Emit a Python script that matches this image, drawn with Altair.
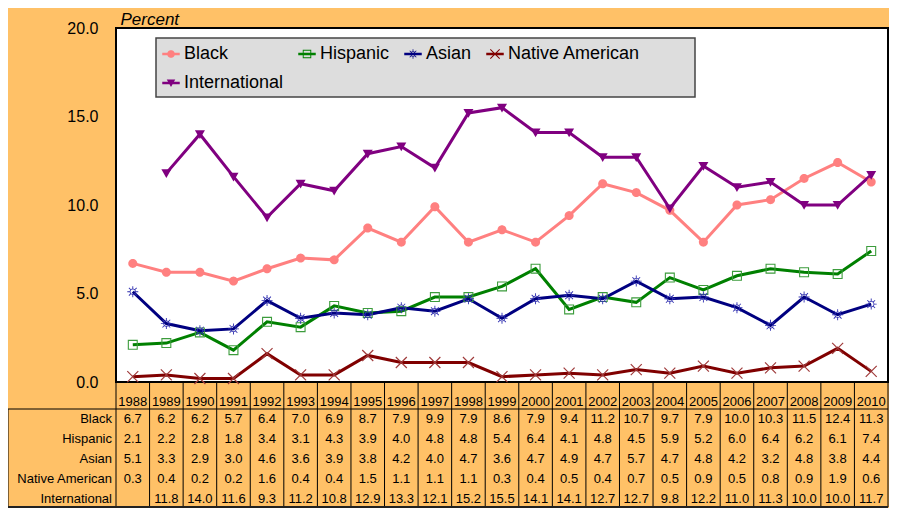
import math
import altair as alt
import pandas as pd

# ---------------- data ----------------
years = [str(y) for y in range(1988, 2011)]
black = [6.7, 6.2, 6.2, 5.7, 6.4, 7.0, 6.9, 8.7, 7.9, 9.9, 7.9, 8.6, 7.9, 9.4, 11.2, 10.7, 9.7, 7.9, 10.0, 10.3, 11.5, 12.4, 11.3]
hispanic = [2.1, 2.2, 2.8, 1.8, 3.4, 3.1, 4.3, 3.9, 4.0, 4.8, 4.8, 5.4, 6.4, 4.1, 4.8, 4.5, 5.9, 5.2, 6.0, 6.4, 6.2, 6.1, 7.4]
asian = [5.1, 3.3, 2.9, 3.0, 4.6, 3.6, 3.9, 3.8, 4.2, 4.0, 4.7, 3.6, 4.7, 4.9, 4.7, 5.7, 4.7, 4.8, 4.2, 3.2, 4.8, 3.8, 4.4]
native_american = [0.3, 0.4, 0.2, 0.2, 1.6, 0.4, 0.4, 1.5, 1.1, 1.1, 1.1, 0.3, 0.4, 0.5, 0.4, 0.7, 0.5, 0.9, 0.5, 0.8, 0.9, 1.9, 0.6]
international = [None, 11.8, 14.0, 11.6, 9.3, 11.2, 10.8, 12.9, 13.3, 12.1, 15.2, 15.5, 14.1, 14.1, 12.7, 12.7, 9.8, 12.2, 11.0, 11.3, 10.0, 10.0, 11.7]
series = ["Black", "Hispanic", "Asian", "Native American", "International"]
y_ticks = [0, 5, 10, 15, 20]

# ---------------- styles ----------------
line_colors = ["#FF8080", "#008000", "#000080", "#800000", "#800080"]
marker_colors = ["#FF8080", "#3C9C3C", "#3030B0", "#A03C3C", "#800080"]
BG = "#FFC167"
FONT = "Liberation Sans"

values = dict(zip(series, [black, hispanic, asian, native_american, international]))
records = []
for s in series:
    for yr, v in zip(years, values[s]):
        records.append({"year": yr, "series": s, "value": v})
df = pd.DataFrame(records)


# ---------------- marker paths (unit box -1..1, filled) ----------------
def shoelace(p):
    n = len(p)
    return 0.5 * sum(p[i][0] * p[(i + 1) % n][1] - p[(i + 1) % n][0] * p[i][1] for i in range(n))


def poly(p, cw=True):
    if (shoelace(p) > 0) != cw:
        p = p[::-1]
    return "M" + "L".join(f"{x:.3f},{y:.3f}" for x, y in p) + "Z"


def circle(r, n=32):
    return [(r * math.cos(2 * math.pi * k / n), r * math.sin(2 * math.pi * k / n)) for k in range(n)]


def square(h):
    return [(-h, -h), (h, -h), (h, h), (-h, h)]


def bar(x1, y1, x2, y2, t):
    dx, dy = x2 - x1, y2 - y1
    L = math.hypot(dx, dy)
    nx, ny = -dy / L * t, dx / L * t
    return [(x1 + nx, y1 + ny), (x2 + nx, y2 + ny), (x2 - nx, y2 - ny), (x1 - nx, y1 - ny)]


def sc(p, k):
    return [(x * k, y * k) for x, y in p]


rays = []
for k in range(8):
    a = k * math.pi / 4
    rays.append((bar(0.55 * math.cos(a), 0.55 * math.sin(a), 1.1 * math.cos(a), 1.1 * math.sin(a), 0.09), True))

marker_parts = {
    "Black": [(circle(0.9), True)],
    "Hispanic": [(square(1.0), True), (square(0.78), False)],
    "Asian": [(circle(0.62), True), (circle(0.46), False)] + rays,
    "Native American": [(bar(-1.1, -1.1, 1.1, 1.1, 0.12), True), (bar(-1.1, 1.1, 1.1, -1.1, 0.12), True)],
    "International": [([(-1.0, -0.8), (1.0, -0.8), (0.0, 0.95)], True)],
}


def marker_path(name, k=1.0):
    return "".join(poly(sc(p, k), cw) for p, cw in marker_parts[name])


point_paths = [marker_path(s) for s in series]
legend_line = poly(bar(-1.75, 0, 1.75, 0, 0.25), True)
legend_paths = [legend_line + marker_path(s, 0.85) for s in series]

# ---------------- geometry (pixels, plot coords) ----------------
W, H = 772, 354
row_y = [391, 411, 431, 451, 470.5]
table_top, table_bottom, table_left = 381, 479, -108

x_enc = alt.X("year:N", scale=alt.Scale(domain=years, type="band", paddingInner=0, paddingOuter=0),
              axis=alt.Axis(title=None, labelAngle=0, labelFontSize=13, labelPadding=13, ticks=False,
                            tickSize=0, domain=False, labelColor="black", labelFont=FONT))
y_enc = alt.Y("value:Q", scale=alt.Scale(domain=[0, 20], nice=False),
              axis=alt.Axis(values=y_ticks, format=".1f", title="Percent", titleAngle=0, titleX=4, titleY=-4,
                            titleAlign="left", titleBaseline="alphabetic", titleFontStyle="italic",
                            titleFontWeight="normal", titleFontSize=17, titleColor="black", titleFont=FONT,
                            labelFontSize=16, labelPadding=18, labelColor="black", labelFont=FONT,
                            ticks=False, tickSize=0, grid=False, domainColor="black", domainWidth=3))

base = alt.Chart(df)
one = pd.DataFrame({"a": [0]})

plot_bg = alt.Chart(one).mark_rect(fill="white", stroke="black", strokeWidth=2).encode(
    x=alt.value(0), x2=alt.value(W), y=alt.value(0), y2=alt.value(H))

legend_box = alt.Chart(one).mark_rect(
    fill="#DDDDDD", stroke="#444444", strokeWidth=1.5
).encode(x=alt.value(40), x2=alt.value(579), y=alt.value(10), y2=alt.value(69))

lines = base.mark_line(strokeWidth=3).encode(
    x=x_enc, y=y_enc,
    color=alt.Color("series:N", scale=alt.Scale(domain=series, range=line_colors), legend=None),
    detail="series:N",
)

points = base.transform_filter("datum.value != null").mark_point(
    filled=True, size=100, opacity=1, strokeWidth=0
).encode(
    x=x_enc, y=y_enc,
    color=alt.Color("series:N", scale=alt.Scale(domain=series, range=marker_colors), legend=None),
    shape=alt.Shape("series:N", scale=alt.Scale(domain=series, range=point_paths), legend=None),
)

leg = alt.Legend(orient="none", legendX=46, legendY=17, columns=4, direction="horizontal", title=None,
                 labelFontSize=18, labelFont=FONT, labelColor="black", symbolSize=100, symbolStrokeWidth=0,
                 labelOffset=4, columnPadding=14, rowPadding=11, padding=0, gridAlign="each")
legend_layer = base.transform_filter("false").mark_point(filled=True, opacity=1, size=100).encode(
    color=alt.Color("series:N", scale=alt.Scale(domain=series, range=line_colors), legend=leg),
    shape=alt.Shape("series:N", scale=alt.Scale(domain=series, range=legend_paths), legend=leg),
)

# table grid
vsep = alt.Chart(pd.DataFrame({"year": years})).mark_rule(color="black", strokeWidth=1).encode(
    x=alt.X("year:N", bandPosition=0), y=alt.value(H), y2=alt.value(table_bottom))
right_edge = alt.Chart(one).mark_rule(color="black", strokeWidth=1).encode(
    x=alt.value(W), y=alt.value(H), y2=alt.value(table_bottom))
left_edge = alt.Chart(one).mark_rule(color="black", strokeWidth=1).encode(
    x=alt.value(table_left), y=alt.value(table_top), y2=alt.value(table_bottom))
top_line = alt.Chart(one).mark_rule(color="black", strokeWidth=1).encode(
    x=alt.value(table_left), x2=alt.value(W), y=alt.value(table_top))
bottom_line = alt.Chart(one).mark_rule(color="#222222", strokeWidth=2).encode(
    x=alt.value(table_left), x2=alt.value(W), y=alt.value(table_bottom))

table_layers = []
for s, ry in zip(series, row_y):
    table_layers.append(
        base.transform_filter(alt.datum.series == s).transform_filter("datum.value != null")
        .mark_text(fontSize=13, font=FONT, baseline="middle", align="center", color="black")
        .encode(x=alt.X("year:N"), y=alt.value(ry), text=alt.Text("value:Q", format=".1f"))
    )
    table_layers.append(
        alt.Chart(pd.DataFrame({"label": [s]}))
        .mark_text(fontSize=13, font=FONT, baseline="middle", align="right", color="black")
        .encode(x=alt.value(-4), y=alt.value(ry), text="label:N")
    )

chart = alt.layer(
    plot_bg, legend_box, lines, points, legend_layer, vsep, right_edge, left_edge, top_line, bottom_line,
    *table_layers
).resolve_scale(color="independent", shape="independent").properties(
    width=W, height=H, autosize="none",
    padding={"left": 108, "top": 20, "right": 1, "bottom": 126},
    background=BG,
).configure_view(
    stroke=None
).configure(font=FONT)

chart.save("out.html", embed_options={"renderer": "svg", "actions": False})
